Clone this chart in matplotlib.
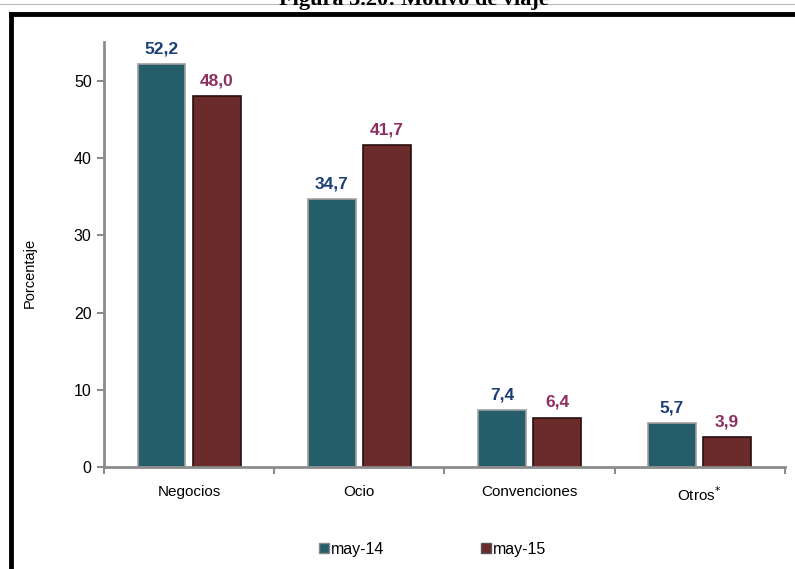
import numpy as np
import matplotlib.pyplot as plt
from matplotlib.lines import Line2D

plt.rcParams['font.family'] = ['Liberation Sans', 'DejaVu Sans']

categorias = ['Negocios', 'Ocio', 'Convenciones', 'Otros$^{*}$']
may14 = [52.2, 34.7, 7.4, 5.7]
may15 = [48.0, 41.7, 6.4, 3.9]
series = ['may-14', 'may-15']

teal = '#255d6b'
rojo = '#6b2b2b'
azul_txt = '#1c3f78'
rosa_txt = '#8e2f62'
gris = '#8c8c8c'

fig = plt.figure(figsize=(7.95, 5.69), dpi=100)
ax = fig.add_axes([0.131, 0.179, 0.856, 0.747])

x = np.arange(len(categorias))
w = 0.28
off = 0.162
b1 = ax.bar(x - off, may14, w, color=teal, edgecolor='#a0a0a0', linewidth=1.2)
b2 = ax.bar(x + off, may15, w, color=rojo, edgecolor='#2a0e0e', linewidth=1.2)

for xi, v in zip(x, may14):
    ax.text(xi - off, v + 1.0, f'{v:.1f}'.replace('.', ','), ha='center', va='bottom',
            color=azul_txt, fontsize=12.5, fontweight='bold')
for xi, v in zip(x, may15):
    ax.text(xi + off, v + 1.0, f'{v:.1f}'.replace('.', ','), ha='center', va='bottom',
            color=rosa_txt, fontsize=12.5, fontweight='bold')

ax.set_xlim(-0.5, len(categorias) - 0.5)
ax.set_ylim(0, 55)
ax.set_yticks([0, 10, 20, 30, 40, 50])
ax.set_xticks(x)
ax.set_xticklabels(categorias, fontsize=11)
ax.set_xticks(np.arange(len(categorias) + 1) - 0.5, minor=True)
ax.tick_params(axis='x', which='major', length=0, pad=13)
ax.tick_params(axis='x', which='minor', length=5, width=1.5, color=gris, direction='out')
ax.tick_params(axis='y', length=5, width=1.5, color=gris, labelsize=11.5, pad=4)
for s in ['top', 'right']:
    ax.spines[s].set_visible(False)
for s in ['left', 'bottom']:
    ax.spines[s].set_color(gris)
    ax.spines[s].set_linewidth(2)

fig.text(0.038, 0.52, 'Porcentaje', rotation=90, ha='center', va='center', fontsize=10.5)

handles = [Line2D([], [], marker='s', ls='', color=teal, markeredgecolor='#888888', markersize=7),
           Line2D([], [], marker='s', ls='', color=rojo, markeredgecolor='#555555', markersize=7)]
fig.legend(handles, series, loc='center', bbox_to_anchor=(0.543, 0.035), ncol=2, frameon=False,
           fontsize=11.5, handletextpad=0.0, columnspacing=6, handlelength=0.8)

# marco de la figura
fig.add_artist(Line2D([0.014, 1.0], [0.976, 0.976], color='black', lw=3.5))
fig.add_artist(Line2D([0.014, 0.014], [0.0, 0.976], color='black', lw=3.5))
fig.add_artist(Line2D([0.0, 1.0], [0.993, 0.993], color='#bbbbbb', lw=0.8))
fig.text(0.52, 0.992, 'Figura 3.20: Motivo de viaje', ha='center', va='baseline',
         fontsize=16, fontweight='bold', family=['Liberation Serif', 'DejaVu Serif'])

fig.savefig('out.png', dpi=100)
